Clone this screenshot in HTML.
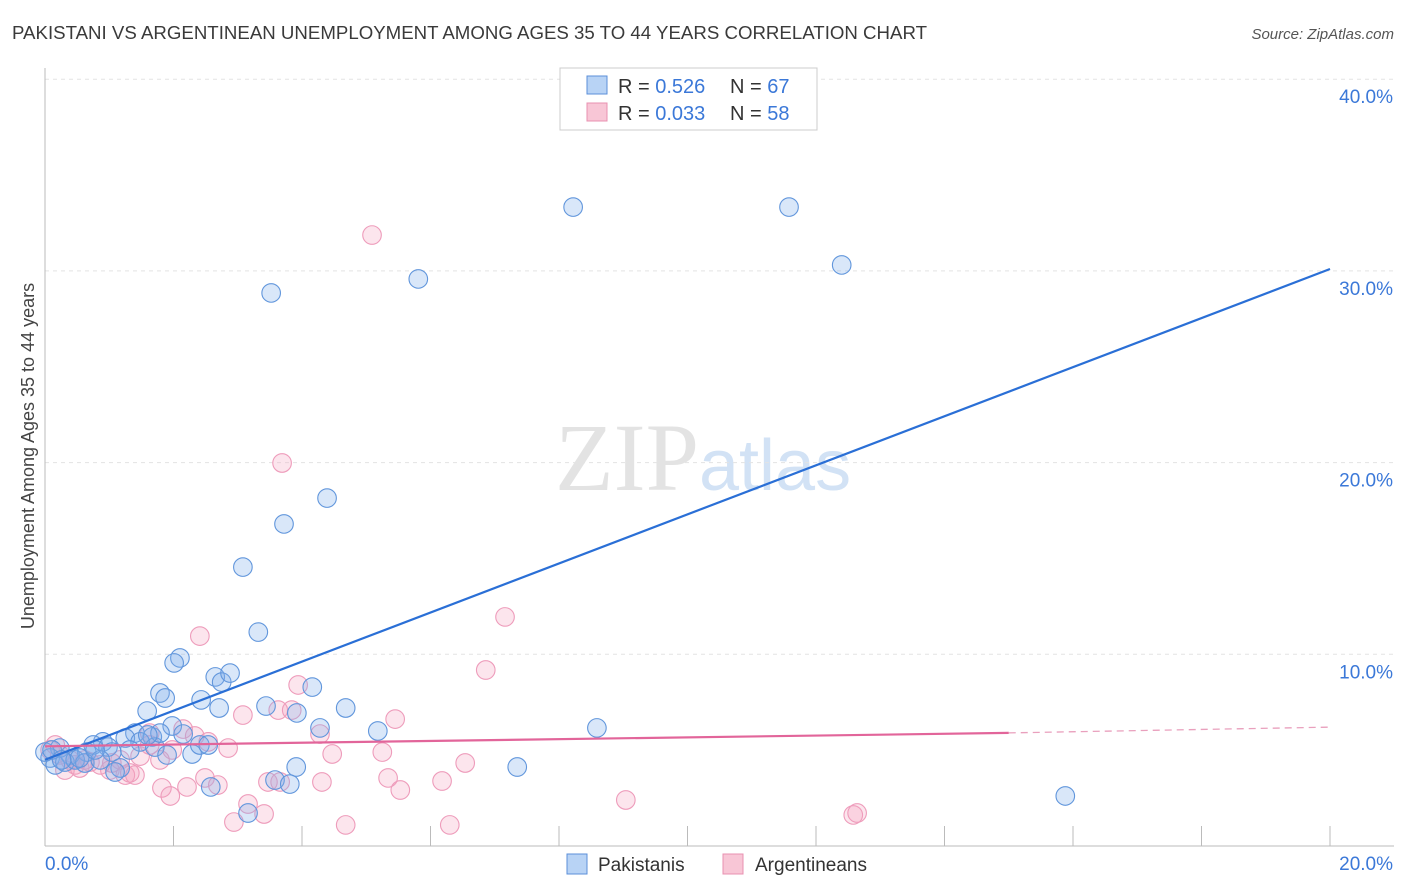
<!DOCTYPE html>
<html><head><meta charset="utf-8"><style>
body{margin:0;background:#fff;font-family:"Liberation Sans",sans-serif}
</style></head><body>
<svg id="chart" width="1406" height="892" xmlns="http://www.w3.org/2000/svg" style="display:block">
<text x="12" y="39" font-size="18" fill="#3a3a3a" textLength="915" lengthAdjust="spacingAndGlyphs">PAKISTANI VS ARGENTINEAN UNEMPLOYMENT AMONG AGES 35 TO 44 YEARS CORRELATION CHART</text>
<text x="1394" y="39" font-size="15" fill="#555" text-anchor="end" font-style="italic">Source: ZipAtlas.com</text>
<text transform="translate(34,456) rotate(-90)" font-size="18" fill="#444" text-anchor="middle">Unemployment Among Ages 35 to 44 years</text>
<text x="555" y="490" font-size="96" font-family="Liberation Serif" fill="#ddd" opacity="0.8">ZIP<tspan fill="#c8dcf3" font-family="Liberation Sans" font-size="72">atlas</tspan></text>
<g id="grid"></g><g id="pts"></g><g id="lines"></g>
<g>
<rect x="560" y="68" width="257" height="62" fill="#fff" stroke="#ccc"/>
<rect x="587" y="76" width="20" height="18" fill="#b8d3f5" stroke="#5b8fd9"/>
<text x="618" y="93" font-size="20" fill="#333">R = <tspan fill="#3b78d8">0.526</tspan></text>
<text x="730" y="93" font-size="20" fill="#333">N = <tspan fill="#3b78d8">67</tspan></text>
<rect x="587" y="103" width="20" height="18" fill="#f8c6d6" stroke="#e890b0"/>
<text x="618" y="120" font-size="20" fill="#333">R = <tspan fill="#3b78d8">0.033</tspan></text>
<text x="730" y="120" font-size="20" fill="#333">N = <tspan fill="#3b78d8">58</tspan></text>
</g>
<g>
<rect x="567" y="854" width="20" height="20" fill="#b8d3f5" stroke="#5b8fd9"/>
<text x="598" y="871" font-size="19" fill="#333">Pakistanis</text>
<rect x="723" y="854" width="20" height="20" fill="#f8c6d6" stroke="#e890b0"/>
<text x="755" y="871" font-size="19" fill="#333">Argentineans</text>
</g>
</svg>
<script>
const blueX=[8.22,11.58,12.40,3.52,5.81,4.39,3.72,3.08,3.32,2.10,2.01,1.79,1.87,2.65,2.75,2.88,1.59,2.43,2.71,4.16,3.44,3.92,4.68,4.28,5.18,8.59,1.98,2.15,1.40,1.67,1.25,1.48,0.90,0.75,0.98,1.32,1.71,1.90,2.29,2.41,1.04,0.65,0.39,0.23,0.08,0.16,0.31,0.47,0.62,0.86,1.17,1.09,3.91,7.35,3.58,3.81,2.58,3.16,15.88,0,0.11,0.54,0.78,0.26,1.79,1.60,2.54];
const blueY=[33.33,33.33,30.31,28.85,29.58,18.15,16.80,14.55,11.16,9.81,9.55,7.98,7.72,8.82,8.55,9.02,7.04,7.62,7.20,8.29,7.30,6.94,7.20,6.16,6.00,6.16,6.26,5.84,5.89,5.69,5.63,5.43,5.43,5.27,5.16,5.01,5.16,4.75,4.80,5.27,4.90,4.90,4.75,5.11,4.59,4.23,4.38,4.49,4.33,4.49,4.07,3.86,4.12,4.12,3.44,3.23,3.08,1.72,2.61,4.90,5.01,4.59,5.01,4.49,5.89,5.79,5.27];
const pinkX=[5.09,3.69,7.16,2.41,6.86,3.94,3.08,3.63,3.84,5.45,4.28,2.15,2.33,2.54,2.85,1.63,1.98,1.79,1.48,4.47,5.25,1.17,0.86,0.70,0.47,0.23,0.08,0.16,0.31,0.54,1.01,1.25,1.40,1.32,6.54,5.34,5.53,6.18,3.47,3.66,4.31,2.49,2.69,2.21,1.82,1.95,3.16,3.41,2.94,4.68,6.30,9.04,12.58,12.64,1.04,0.62,0.39,1.63];
const pinkY=[31.87,19.98,11.95,10.95,9.18,8.40,6.83,7.09,7.09,6.62,5.84,6.10,5.74,5.43,5.11,5.89,5.01,4.49,4.69,4.80,4.90,4.49,4.23,4.38,4.23,4.75,5.01,5.27,3.96,4.07,3.96,3.70,3.70,3.81,4.33,3.55,2.92,3.39,3.34,3.34,3.34,3.55,3.18,3.08,3.03,2.61,2.19,1.67,1.25,1.10,1.10,2.40,1.62,1.72,4.33,4.49,4.49,5.27];
const yTicks=[10,20,30,40];
const yTickLabels=["10.0%","20.0%","30.0%","40.0%"];
const xTicks=[2,4,6,8,10,12,14,16,18,20];
const blueTrend=[[0,4.5],[20,30.1]];
const pinkTrend=[[0,5.2],[15,5.9],[20,6.2]];
const X=v=>45+v*64.25, Y=v=>846-v*19.17;
const NS="http://www.w3.org/2000/svg";
function mk(t,a,p){const e=document.createElementNS(NS,t);for(const k in a)e.setAttribute(k,a[k]);p.appendChild(e);return e;}
const grid=document.getElementById('grid');
yTicks.forEach((t,i)=>{
 const l=mk('line',{x1:45,x2:1394,y1:Y(t),y2:Y(t),stroke:'#e3e3e3','stroke-dasharray':'4,4'},grid);
 
 
 const tx=mk('text',{x:1393,y:Y(t)+24,'font-size':19,fill:'#3b78d8','text-anchor':'end'},grid);
 tx.textContent=yTickLabels[i];
 
 
});
const ax=mk('line',{x1:45,x2:45,y1:68,y2:846,stroke:'#bbb'},grid);


const bx=mk('line',{x1:45,x2:1394,y1:846,y2:846,stroke:'#bbb'},grid);


xTicks.forEach(t=>{const l=mk('line',{x1:X(t),x2:X(t),y1:826,y2:846,stroke:'#bbb'},grid);
 
 });
const x0=mk('text',{x:45,y:870,'font-size':19,fill:'#3b78d8'},grid);x0.textContent='0.0%';


const x1=mk('text',{x:1393,y:870,'font-size':19,fill:'#3b78d8','text-anchor':'end'},grid);x1.textContent='20.0%';


const pts=document.getElementById('pts');
pinkX.forEach((v,i)=>{const c=mk('circle',{cx:X(v),cy:Y(pinkY[i]),r:9.3,fill:'rgba(244,160,190,0.28)',stroke:'#ee9cbb','stroke-width':1.1},pts);
 
 });
blueX.forEach((v,i)=>{const c=mk('circle',{cx:X(v),cy:Y(blueY[i]),r:9.3,fill:'rgba(130,175,235,0.3)',stroke:'#6196dc','stroke-width':1.1},pts);
 
 });
const lines=document.getElementById('lines');
const bl=mk('line',{x1:X(blueTrend[0][0]),y1:Y(blueTrend[0][1]),x2:X(blueTrend[1][0]),y2:Y(blueTrend[1][1]),stroke:'#2a6fd6','stroke-width':2.2},lines);


const pl=mk('line',{x1:X(pinkTrend[0][0]),y1:Y(pinkTrend[0][1]),x2:X(pinkTrend[1][0]),y2:Y(pinkTrend[1][1]),stroke:'#e2659a','stroke-width':2.2},lines);


const pd=mk('line',{x1:X(pinkTrend[1][0]),y1:Y(pinkTrend[1][1]),x2:X(pinkTrend[2][0]),y2:Y(pinkTrend[2][1]),stroke:'#e9a0bd','stroke-width':1.3,'stroke-dasharray':'7,5'},lines);


</script>
</body></html>
